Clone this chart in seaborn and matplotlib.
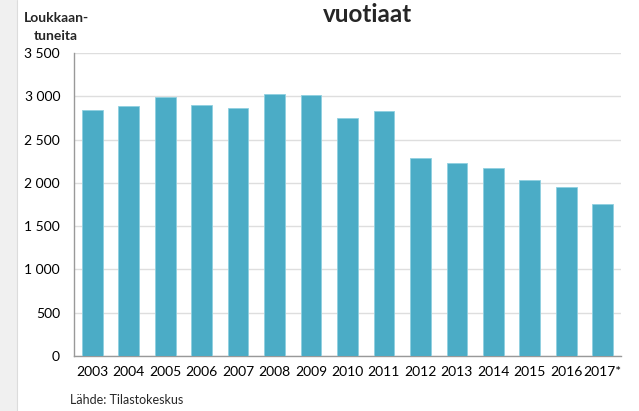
import matplotlib
matplotlib.use("Agg")
import matplotlib.pyplot as plt
from matplotlib.patches import Rectangle
from matplotlib.ticker import FuncFormatter
import seaborn as sns
import pandas as pd

years = ["2003", "2004", "2005", "2006", "2007", "2008", "2009", "2010",
         "2011", "2012", "2013", "2014", "2015", "2016", "2017*"]
injured = [2840, 2885, 2990, 2905, 2870, 3025, 3020, 2750,
           2835, 2285, 2235, 2172, 2028, 1948, 1760]
yticks = [0, 500, 1000, 1500, 2000, 2500, 3000, 3500]

sns.set_style("white")
plt.rcParams["font.family"] = ["Lato", "DejaVu Sans"]

df = pd.DataFrame({"year": years, "injured": injured})

fig = plt.figure(figsize=(6.39, 4.11), dpi=100)
ax = fig.add_axes([74 / 639, 1 - 356 / 411, (621 - 74) / 639, (356 - 53) / 411])

sns.barplot(data=df, x="year", y="injured", color="#4bacc6", saturation=1,
            width=0.57, edgecolor="#8fd0e0", linewidth=0.6, ax=ax, zorder=3)

ax.set_ylim(0, 3500)
ax.set_yticks(yticks)
ax.yaxis.set_major_formatter(FuncFormatter(lambda v, p: f"{int(v):,}".replace(",", " ")))
ax.grid(axis="y", color="#dedede", linewidth=1, zorder=0)
ax.set_xlabel("")
ax.set_ylabel("")
ax.tick_params(axis="both", length=0, labelsize=10, colors="black")
ax.tick_params(axis="y", pad=10)
ax.tick_params(axis="x", pad=7)
for side in ["top", "right"]:
    ax.spines[side].set_visible(False)
for side in ["left", "bottom"]:
    ax.spines[side].set_color("#999999")
    ax.spines[side].set_linewidth(1)

# grey strip at left edge
fig.patches.append(Rectangle((0, 0), 17 / 639, 1, transform=fig.transFigure,
                             facecolor="#f0f0f0", edgecolor="none", zorder=0))
fig.lines.append(plt.Line2D([17 / 639, 17 / 639], [0, 1], transform=fig.transFigure,
                            color="#dcdcdc", linewidth=0.8))

fig.text(368 / 639, 1 - 15 / 411, "vuotiaat", ha="center", va="center",
         fontsize=17.5, fontweight="bold")
fig.text(56 / 639, 1 - 27 / 411, "Loukkaan-\ntuneita", ha="center", va="center",
         fontsize=10, fontweight="bold", linespacing=1.6)
fig.text(70 / 639, 1 - 400 / 411, "Lähde: Tilastokeskus", ha="left", va="center",
         fontsize=9)

fig.savefig("out.png", dpi=100)
